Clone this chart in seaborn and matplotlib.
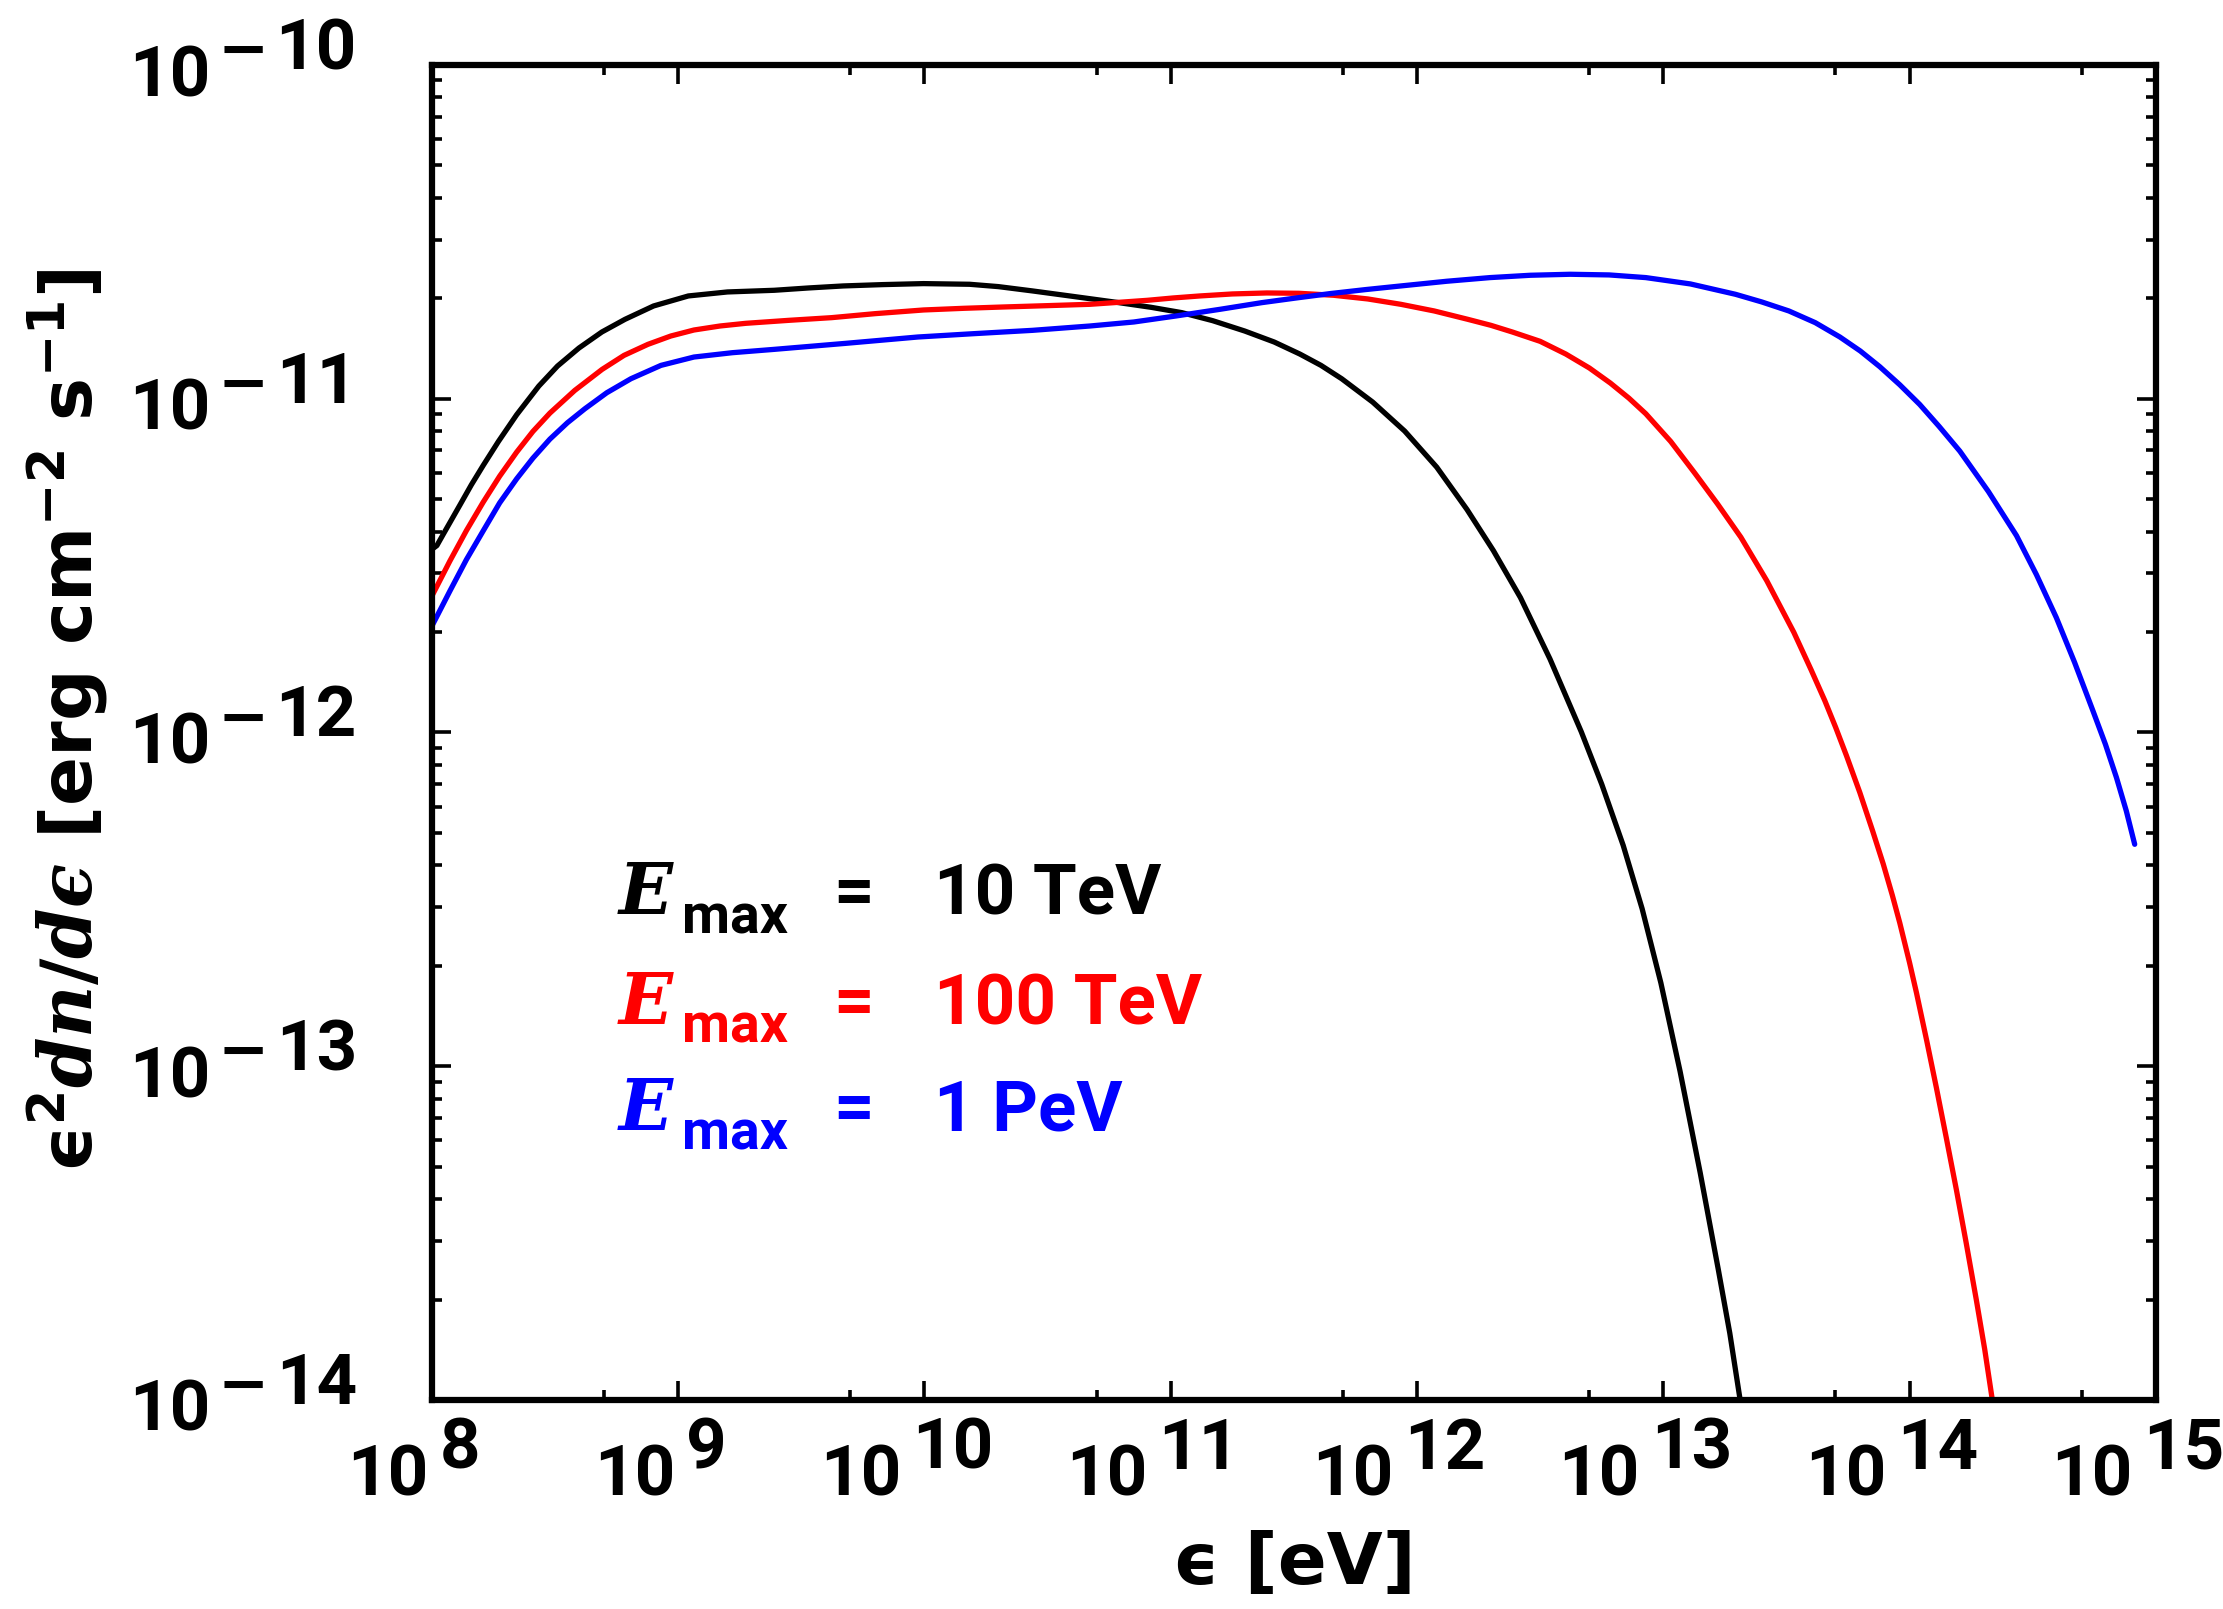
import numpy as np
import pandas as pd
import matplotlib
matplotlib.use("Agg")
import matplotlib.pyplot as plt
import seaborn as sns
from matplotlib.ticker import LogLocator, NullFormatter
from matplotlib.textpath import TextToPath
from matplotlib.font_manager import FontProperties, fontManager

# ---------------- data (log10 values) ----------------
black_logE = [8.000, 8.020, 8.046, 8.080, 8.114, 8.160, 8.208, 8.270, 8.344, 8.434,
              8.510, 8.597, 8.690, 8.784, 8.900, 9.041, 9.200, 9.390, 9.530, 9.670,
              9.830, 9.996, 10.183, 10.300, 10.439, 10.600, 10.789, 10.920, 11.045,
              11.170, 11.300, 11.420, 11.524, 11.610, 11.694, 11.820, 11.950, 12.080,
              12.203, 12.310, 12.420, 12.540, 12.667, 12.750, 12.837, 12.914, 12.990,
              13.068, 13.150, 13.223, 13.270, 13.312]
black_logF = [-11.451, -11.440, -11.406, -11.362, -11.318, -11.258, -11.200, -11.128,
              -11.048, -10.962, -10.902, -10.848, -10.800, -10.762, -10.722, -10.692,
              -10.680, -10.675, -10.668, -10.662, -10.658, -10.655, -10.657, -10.664,
              -10.677, -10.693, -10.712, -10.726, -10.742, -10.766, -10.797, -10.830,
              -10.866, -10.900, -10.940, -11.010, -11.097, -11.205, -11.332, -11.455,
              -11.596, -11.780, -11.998, -12.155, -12.338, -12.528, -12.750, -13.015,
              -13.320, -13.608, -13.800, -14.000]

red_logE = [8.000, 8.073, 8.140, 8.208, 8.275, 8.344, 8.410, 8.479, 8.580, 8.691,
            8.780, 8.877, 8.970, 9.064, 9.170, 9.274, 9.450, 9.623, 9.800, 9.996,
            10.160, 10.322, 10.500, 10.672, 10.790, 10.906, 11.010, 11.118, 11.250,
            11.390, 11.520, 11.662, 11.800, 11.934, 12.070, 12.206, 12.300, 12.387,
            12.500, 12.604, 12.700, 12.785, 12.860, 12.929, 13.030, 13.129, 13.220,
            13.315, 13.420, 13.530, 13.600, 13.656, 13.700, 13.744, 13.798, 13.850,
            13.893, 13.930, 13.960, 14.000, 14.028, 14.070, 14.109, 14.150, 14.190,
            14.230, 14.271, 14.305, 14.336]
red_logF = [-11.591, -11.486, -11.395, -11.310, -11.232, -11.160, -11.098, -11.043,
            -10.975, -10.912, -10.870, -10.837, -10.812, -10.794, -10.782, -10.774,
            -10.765, -10.757, -10.745, -10.734, -10.729, -10.725, -10.721, -10.717,
            -10.711, -10.705, -10.698, -10.692, -10.686, -10.683, -10.684, -10.690,
            -10.701, -10.717, -10.737, -10.762, -10.780, -10.800, -10.828, -10.866,
            -10.908, -10.953, -10.998, -11.045, -11.128, -11.224, -11.315, -11.415,
            -11.545, -11.700, -11.812, -11.905, -11.985, -12.070, -12.180, -12.295,
            -12.394, -12.488, -12.570, -12.690, -12.780, -12.925, -13.065, -13.218,
            -13.370, -13.530, -13.700, -13.848, -14.000]

blue_logE = [8.000, 8.073, 8.140, 8.208, 8.275, 8.344, 8.410, 8.479, 8.550, 8.621,
             8.710, 8.808, 8.930, 9.064, 9.220, 9.390, 9.680, 9.973, 10.200, 10.439,
             10.672, 10.850, 11.021, 11.200, 11.370, 11.510, 11.646, 11.790, 11.934,
             12.120, 12.296, 12.460, 12.622, 12.780, 12.929, 13.110, 13.293, 13.400,
             13.510, 13.617, 13.717, 13.800, 13.879, 13.960, 14.041, 14.120, 14.204,
             14.320, 14.434, 14.515, 14.596, 14.670, 14.745, 14.795, 14.840, 14.880,
             14.914]
blue_logF = [-11.681, -11.576, -11.482, -11.396, -11.312, -11.240, -11.178, -11.121,
             -11.072, -11.030, -10.982, -10.940, -10.900, -10.875, -10.862, -10.852,
             -10.834, -10.815, -10.805, -10.795, -10.782, -10.770, -10.752, -10.732,
             -10.712, -10.698, -10.685, -10.673, -10.662, -10.648, -10.637, -10.630,
             -10.627, -10.629, -10.637, -10.656, -10.687, -10.710, -10.737, -10.772,
             -10.815, -10.857, -10.904, -10.958, -11.017, -11.083, -11.157, -11.278,
             -11.410, -11.527, -11.656, -11.790, -11.936, -12.035, -12.135, -12.235,
             -12.335]

series_names = ["10 TeV", "100 TeV", "1 PeV"]
series_colors = ["#000000", "#ff0000", "#0000ff"]
x_tick_exps = [8, 9, 10, 11, 12, 13, 14, 15]
y_tick_exps = [-14, -13, -12, -11, -10]

# ---------------- style ----------------
sns.set_theme(style="ticks")
names = {f.name for f in fontManager.ttflist}
TICK_FONT = "Roboto" if "Roboto" in names else "DejaVu Sans"
plt.rcParams["font.family"] = ["DejaVu Sans"]
plt.rcParams.update({
    "mathtext.fontset": "custom",
    "mathtext.rm": "DejaVu Sans:bold",
    "mathtext.bf": "DejaVu Sans:bold",
    "mathtext.it": "DejaVu Serif:italic:bold",
    "axes.edgecolor": "black",
    "axes.labelcolor": "black",
    "text.color": "black",
    "axes.linewidth": 4.5,
    "xtick.color": "black",
    "ytick.color": "black",
})

PX = 0.72  # points per pixel at dpi=100

fig = plt.figure(figsize=(22.23, 16.09), dpi=100)
ax = fig.add_axes([0.1943, 0.1299, 0.7755, 0.8297])
ax.set_xscale("log")
ax.set_yscale("log")

frames = []
for name, le, lf in zip(series_names,
                        [black_logE, red_logE, blue_logE],
                        [black_logF, red_logF, blue_logF]):
    frames.append(pd.DataFrame({"E": 10.0 ** np.array(le),
                                "F": 10.0 ** np.array(lf),
                                "series": name}))
df = pd.concat(frames, ignore_index=True)

sns.lineplot(data=df, x="E", y="F", hue="series", hue_order=series_names,
             palette=series_colors, linewidth=3.8, estimator=None, sort=False,
             legend=False, ax=ax)
for ln in ax.lines:
    ln.set_solid_joinstyle("round")
    ln.set_solid_capstyle("round")

ax.set_xlim(1e8, 1e15)
ax.set_ylim(1e-14, 1e-10)
ax.xaxis.set_major_locator(LogLocator(base=10, numticks=30))
ax.xaxis.set_minor_locator(LogLocator(base=10, subs=(5.0,), numticks=30))
ax.yaxis.set_major_locator(LogLocator(base=10, numticks=30))
ax.yaxis.set_minor_locator(LogLocator(base=10, subs=np.arange(2, 10), numticks=30))
ax.xaxis.set_minor_formatter(NullFormatter())
ax.yaxis.set_minor_formatter(NullFormatter())
ax.tick_params(which="both", direction="in", top=True, right=True,
               labelbottom=False, labelleft=False, width=2.6)
ax.tick_params(which="major", length=14)
ax.tick_params(which="minor", length=7.5)
for s in ax.spines.values():
    s.set_linewidth(4.5)

# ---------------- manual IDL-style tick labels ----------------
TICK_FS = 51
fp = FontProperties(family=TICK_FONT, weight="bold", size=TICK_FS)
fpMinus = FontProperties(family="DejaVu Sans", weight="bold", size=44)
ttp = TextToPath()


def wpt(s, prop=fp):
    w, h, d = ttp.get_text_width_height_descent(s, prop, ismath=False)
    return w


for k in x_tick_exps:
    base, sup = "10", str(k)
    wb, ws = wpt(base), wpt(sup)
    gap = 11 * PX
    total = wb + gap + ws
    left = -18 * PX - total / 2
    ax.annotate(base, xy=(10.0 ** k, 0), xycoords=ax.get_xaxis_transform(),
                xytext=(left, -96 * PX), textcoords="offset points",
                ha="left", va="baseline", fontproperties=fp, color="black",
                annotation_clip=False)
    ax.annotate(sup, xy=(10.0 ** k, 0), xycoords=ax.get_xaxis_transform(),
                xytext=(left + wb + gap, -69 * PX), textcoords="offset points",
                ha="left", va="baseline", fontproperties=fp, color="black",
                annotation_clip=False)

wminus = wpt("\u2212", fpMinus)
for k in y_tick_exps:
    digits = str(-k)
    wd = wpt(digits)
    right = -75 * PX
    tr = ax.get_yaxis_transform()
    ax.annotate(digits, xy=(0, 10.0 ** k), xycoords=tr,
                xytext=(right, -4 * PX), textcoords="offset points",
                ha="right", va="baseline", fontproperties=fp, color="black",
                annotation_clip=False)
    mright = right - wd - 7 * PX
    ax.annotate("\u2212", xy=(0, 10.0 ** k), xycoords=tr,
                xytext=(mright, -4 * PX), textcoords="offset points",
                ha="right", va="baseline", fontproperties=fpMinus, color="black",
                annotation_clip=False)
    ax.annotate("10", xy=(0, 10.0 ** k), xycoords=tr,
                xytext=(mright - wminus - 7 * PX, -31 * PX), textcoords="offset points",
                ha="right", va="baseline", fontproperties=fp, color="black",
                annotation_clip=False)

# ---------------- axis labels ----------------
LAB_FS = 52
ax.set_xlabel("\u03f5 [eV]", fontsize=LAB_FS, fontweight="bold", va="center",
              color="black")
ax.xaxis.set_label_coords(0.5, -0.123)
ax.set_ylabel("$\\mathrm{\u03f5}^{2}dn/d\u03f5$ [erg cm$^{-2}$ s$^{-1}$]",
              fontsize=LAB_FS, fontweight="bold", va="center", color="black")
ax.yaxis.set_label_coords(-0.211, 0.509)

# ---------------- in-plot legend text ----------------
fpE = FontProperties(family="DejaVu Serif", style="italic", weight="bold", size=51)
fpSub = FontProperties(family=TICK_FONT, weight="bold", size=40)
fpVal = FontProperties(family=TICK_FONT, weight="bold", size=51)
line_base = [0.364, 0.2816, 0.2022]
sub_base = [0.3498, 0.2680, 0.1880]
for name, col, yb, ys in zip(series_names, series_colors, line_base, sub_base):
    ax.text(0.1085, yb, "E", transform=ax.transAxes, color=col, ha="left",
            va="baseline", fontproperties=fpE)
    ax.text(0.1450, ys, "max", transform=ax.transAxes, color=col, ha="left",
            va="baseline", fontproperties=fpSub)
    ax.text(0.2326, yb, "=", transform=ax.transAxes, color=col, ha="left",
            va="baseline", fontproperties=fpVal)
    ax.text(0.2912, yb, name, transform=ax.transAxes, color=col, ha="left",
            va="baseline", fontproperties=fpVal)

fig.savefig("out.png", dpi=100, facecolor="white")
